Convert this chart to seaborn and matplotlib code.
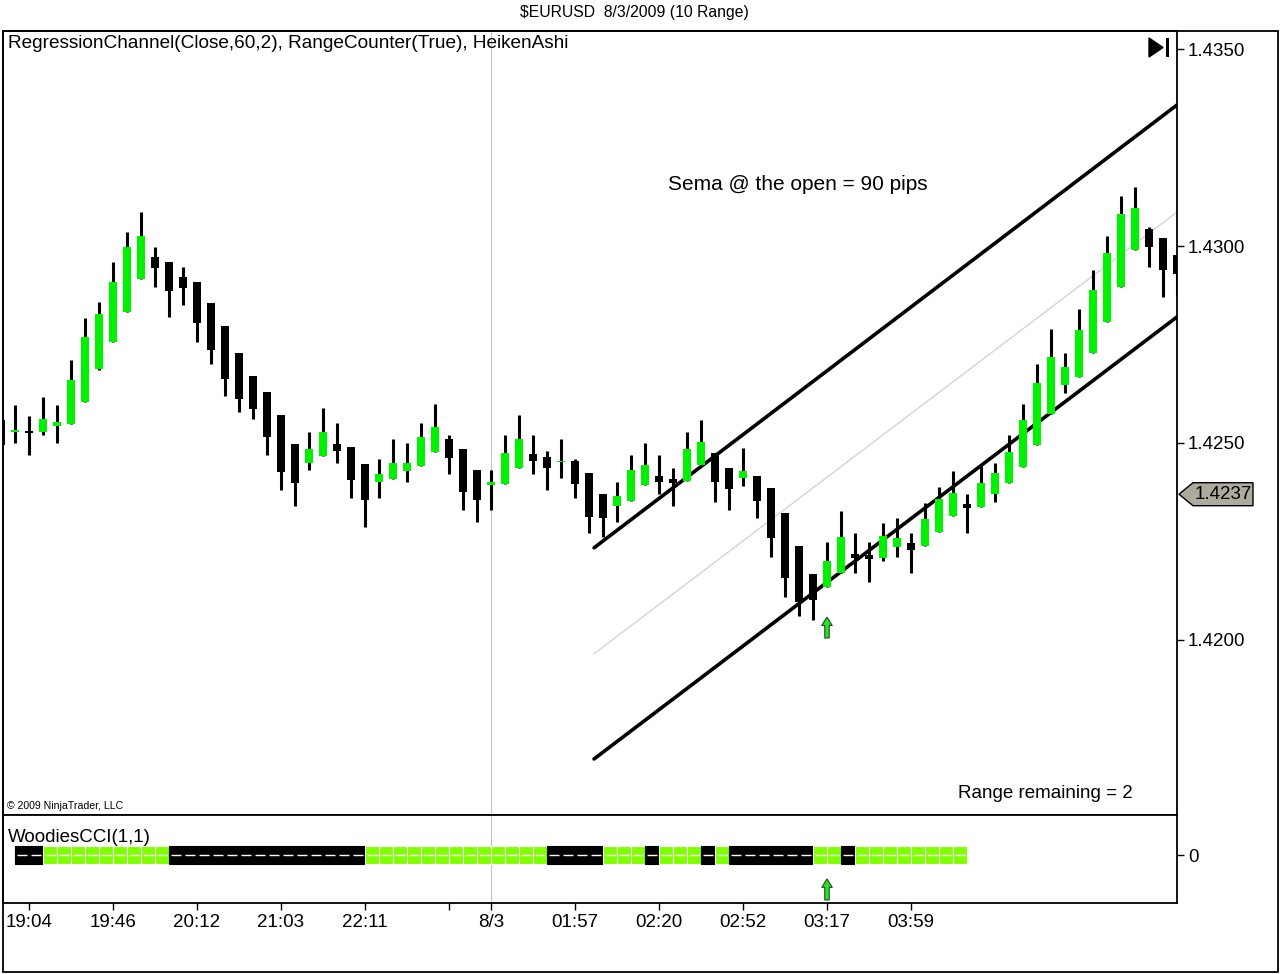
import numpy as np
import pandas as pd
import matplotlib
matplotlib.use("Agg")
import matplotlib.pyplot as plt
import matplotlib.patches as mpatches
import matplotlib.transforms as mtransforms
import seaborn as sns

# --- Heiken Ashi bars, $EURUSD 10 range (bar -1 is cut by the left edge) ---
bar_idx = list(range(-1, 84))
ha_open = [1.42558, 1.42529, 1.42530, 1.42528, 1.42543, 1.42548, 1.42604, 1.42688, 1.42756, 1.42832,
           1.42916, 1.42972, 1.42959, 1.42921, 1.42909, 1.42855, 1.42797, 1.42728, 1.42670, 1.42629,
           1.42571, 1.42497, 1.42449, 1.42467, 1.42497, 1.42490, 1.42447, 1.42401, 1.42409, 1.42429,
           1.42442, 1.42477, 1.42510, 1.42485, 1.42431, 1.42393, 1.42396, 1.42437, 1.42472, 1.42464,
           1.42452, 1.42454, 1.42424, 1.42371, 1.42340, 1.42353, 1.42393, 1.42416, 1.42409, 1.42404,
           1.42444, 1.42475, 1.42437, 1.42411, 1.42416, 1.42386, 1.42322, 1.42239, 1.42168, 1.42135,
           1.42170, 1.42218, 1.42216, 1.42208, 1.42236, 1.42246, 1.42239, 1.42274, 1.42315, 1.42345,
           1.42338, 1.42371, 1.42398, 1.42439, 1.42495, 1.42574, 1.42647, 1.42668, 1.42728, 1.42807,
           1.42896, 1.42990, 1.43043, 1.43020, 1.42977]
ha_high = [1.42576, 1.42596, 1.42569, 1.42617, 1.42596, 1.42711, 1.42817, 1.42858, 1.42959, 1.43036,
           1.43086, 1.42997, 1.42959, 1.42947, 1.42909, 1.42855, 1.42797, 1.42728, 1.42670, 1.42629,
           1.42571, 1.42497, 1.42528, 1.42589, 1.42551, 1.42490, 1.42447, 1.42459, 1.42510, 1.42500,
           1.42551, 1.42599, 1.42520, 1.42485, 1.42431, 1.42431, 1.42520, 1.42571, 1.42520, 1.42480,
           1.42510, 1.42459, 1.42424, 1.42371, 1.42401, 1.42470, 1.42500, 1.42470, 1.42437, 1.42528,
           1.42558, 1.42475, 1.42437, 1.42487, 1.42416, 1.42386, 1.42322, 1.42239, 1.42168, 1.42249,
           1.42327, 1.42272, 1.42249, 1.42297, 1.42310, 1.42272, 1.42348, 1.42388, 1.42429, 1.42371,
           1.42442, 1.42449, 1.42520, 1.42599, 1.42701, 1.42789, 1.42728, 1.42840, 1.42939, 1.43025,
           1.43127, 1.43150, 1.43048, 1.43020, 1.42977]
ha_low = [1.42477, 1.42500, 1.42470, 1.42520, 1.42500, 1.42548, 1.42604, 1.42685, 1.42756, 1.42832,
          1.42916, 1.42896, 1.42820, 1.42850, 1.42756, 1.42701, 1.42619, 1.42579, 1.42561, 1.42470,
          1.42381, 1.42340, 1.42431, 1.42467, 1.42449, 1.42360, 1.42287, 1.42360, 1.42409, 1.42401,
          1.42442, 1.42477, 1.42421, 1.42330, 1.42299, 1.42330, 1.42396, 1.42437, 1.42421, 1.42381,
          1.42411, 1.42360, 1.42272, 1.42261, 1.42299, 1.42353, 1.42393, 1.42371, 1.42340, 1.42404,
          1.42444, 1.42350, 1.42330, 1.42391, 1.42310, 1.42211, 1.42109, 1.42061, 1.42051, 1.42135,
          1.42170, 1.42170, 1.42147, 1.42201, 1.42211, 1.42170, 1.42239, 1.42274, 1.42315, 1.42272,
          1.42338, 1.42350, 1.42398, 1.42439, 1.42495, 1.42574, 1.42627, 1.42668, 1.42728, 1.42807,
          1.42896, 1.42990, 1.42947, 1.42871, 1.42876]
ha_close = [1.42495, 1.42533, 1.42525, 1.42561, 1.42553, 1.42660, 1.42769, 1.42827, 1.42909, 1.42997,
            1.43025, 1.42944, 1.42886, 1.42893, 1.42805, 1.42736, 1.42662, 1.42612, 1.42586, 1.42515,
            1.42426, 1.42398, 1.42485, 1.42528, 1.42480, 1.42406, 1.42355, 1.42421, 1.42449, 1.42449,
            1.42515, 1.42541, 1.42462, 1.42376, 1.42355, 1.42401, 1.42475, 1.42510, 1.42454, 1.42437,
            1.42454, 1.42396, 1.42312, 1.42310, 1.42365, 1.42431, 1.42444, 1.42401, 1.42398, 1.42485,
            1.42503, 1.42401, 1.42383, 1.42429, 1.42353, 1.42259, 1.42157, 1.42096, 1.42102, 1.42201,
            1.42261, 1.42208, 1.42206, 1.42264, 1.42259, 1.42228, 1.42307, 1.42358, 1.42373, 1.42335,
            1.42398, 1.42424, 1.42477, 1.42558, 1.42652, 1.42718, 1.42693, 1.42787, 1.42888, 1.42982,
            1.43081, 1.43096, 1.42997, 1.42939, 1.42929]

# --- RegressionChannel(Close,60,2) end points ---
reg_x = [41.36, 83.0]
reg_upper = [1.42234, 1.43358]
reg_mid = [1.41965, 1.43086]
reg_lower = [1.41698, 1.42820]

# --- WoodiesCCI(1,1) histogram cells: 1 = above zero (green), 0 = below (black) ---
cci_up = [0, 0, 1, 1, 1, 1, 1, 1, 1, 1, 1, 0, 0, 0, 0, 0, 0, 0, 0, 0, 0, 0, 0, 0, 0,
          1, 1, 1, 1, 1, 1, 1, 1, 1, 1, 1, 1, 1, 0, 0, 0, 0, 1, 1, 1, 0, 1, 1, 1, 0,
          1, 0, 0, 0, 0, 0, 0, 1, 1, 0, 1, 1, 1, 1, 1, 1, 1, 1]

tick_pos = [1, 7, 13, 19, 25, 31, 34, 40, 46, 52, 58, 64]
tick_lab = ["19:04", "19:46", "20:12", "21:03", "22:11", "", "8/3", "01:57", "02:20", "02:52", "03:17", "03:59"]
price_ticks = [1.4200, 1.4250, 1.4300, 1.4350]
last_price = 1.4237
signal_bar = 58

sns.set_theme(style="white")
plt.rcParams["font.family"] = ["Liberation Sans", "DejaVu Sans"]
plt.rcParams["text.color"] = "black"

W, H = 1280, 974
fig = plt.figure(figsize=(W / 100, H / 100), dpi=100)


def box(x0, y0, x1, y1):
    return [x0 / W, 1 - y1 / H, (x1 - x0) / W, (y1 - y0) / H]


ax = fig.add_axes(box(3, 31, 1177, 815))
ax2 = fig.add_axes(box(3, 815, 1177, 903), sharex=ax)

# --- candles ---
df = pd.DataFrame({"bar": bar_idx, "open": ha_open, "high": ha_high, "low": ha_low, "close": ha_close})
df["up"] = df["close"] >= df["open"]
body_h = (df["close"] - df["open"]).abs().clip(lower=0.00004)
body_mid = (df["close"] + df["open"]) / 2
ax.vlines(df["bar"], df["low"], df["high"], color="black", lw=2.2, zorder=4)
ax.bar(df["bar"], body_h, bottom=body_mid - body_h / 2, width=0.64,
       color=np.where(df["up"], "#00f200", "black"), linewidth=0, zorder=5)

# --- regression channel ---
sns.lineplot(x=reg_x, y=reg_mid, ax=ax, color="#d4d4d4", lw=1, zorder=2)
sns.lineplot(x=reg_x, y=reg_upper, ax=ax, color="black", lw=2.6, zorder=3)
sns.lineplot(x=reg_x, y=reg_lower, ax=ax, color="black", lw=2.6, zorder=3)

ax.set_xlim(-0.857, 83.0)
ax.set_ylim(1.415558, 1.435457)
ax.axvline(34, color="#c4c4c4", lw=0.8, zorder=1)
ax2.axvline(34, color="#c4c4c4", lw=0.8, zorder=1)

ax.yaxis.tick_right()
ax.set_yticks(price_ticks)
ax.set_yticklabels([f"{p:.4f}" for p in price_ticks])
ax.tick_params(axis="y", right=True, left=False, direction="out", length=5, width=1,
               labelsize=13.5, pad=3, colors="black")
ax.tick_params(axis="x", bottom=False, labelbottom=False)

# --- CCI strip ---
cells = np.arange(len(cci_up))
ax2.bar(cells, 0.45, bottom=-0.225, width=1.0, align="edge",
        color=["#80ff00" if u else "black" for u in cci_up],
        edgecolor=["white" if u else "black" for u in cci_up], linewidth=0.8, zorder=3)
ax2.hlines(np.zeros(len(cells)), cells + 0.12, cells + 0.88, color="white", lw=1, zorder=4)
ax2.set_ylim(-1.2, 1.0)
ax2.yaxis.tick_right()
ax2.set_yticks([0])
ax2.set_yticklabels(["0"])
ax2.tick_params(axis="y", right=True, left=False, direction="out", length=5, width=1,
                labelsize=13.5, pad=3, colors="black")
ax2.set_xticks(tick_pos)
ax2.set_xticklabels(tick_lab)
ax2.tick_params(axis="x", bottom=True, direction="out", length=5, width=1,
                labelsize=13.5, pad=3, colors="black")

for a in (ax, ax2):
    for s in a.spines.values():
        s.set_color("black")
        s.set_linewidth(1.3)

# signal arrows
arrow = dict(arrowstyle="simple,head_length=0.6,head_width=0.75,tail_width=0.32",
             fc="#2ee02e", ec="#174d17", lw=0.8, shrinkA=0, shrinkB=0, mutation_scale=10)
ax.annotate("", xy=(signal_bar, 1.42058), xytext=(signal_bar, 1.42005), arrowprops=arrow, zorder=6)
ax2.annotate("", xy=(signal_bar, -0.6), xytext=(signal_bar, -1.125), arrowprops=arrow, zorder=6)

# --- texts ---
fig.text(634 / W, 1 - 13 / H, "$EURUSD  8/3/2009 (10 Range)", ha="center", va="center", fontsize=11.3)
fig.text(8 / W, 1 - 43 / H, "RegressionChannel(Close,60,2), RangeCounter(True), HeikenAshi",
         ha="left", va="center", fontsize=13.7)
fig.text(798 / W, 1 - 185 / H, "Sema @ the open = 90 pips", ha="center", va="center", fontsize=15)
fig.text(1045 / W, 1 - 793 / H, "Range remaining = 2", ha="center", va="center", fontsize=13.5)
fig.text(7 / W, 1 - 806 / H, "\u00a9 2009 NinjaTrader, LLC", ha="left", va="center", fontsize=7.6)
fig.text(8 / W, 1 - 837 / H, "WoodiesCCI(1,1)", ha="left", va="center", fontsize=13.5)

# last price tag
tr = mtransforms.blended_transform_factory(fig.transFigure, ax.transData)
hh = 0.000292
tag = mpatches.Polygon([(1179 / W, last_price), (1193 / W, last_price + hh), (1253 / W, last_price + hh),
                        (1253 / W, last_price - hh), (1193 / W, last_price - hh)],
                       closed=True, transform=tr, fc="#adab9c", ec="black", lw=1, clip_on=False)
fig.add_artist(tag)
fig.text(1223 / W, last_price, f"{last_price:.4f}", transform=tr, ha="center", va="center", fontsize=13.5)

# "go to end" button
fig.add_artist(mpatches.Polygon([(1149 / W, 1 - 38 / H), (1149 / W, 1 - 57 / H), (1163 / W, 1 - 47.5 / H)],
                                closed=True, transform=fig.transFigure, fc="black", ec="black"))
fig.add_artist(mpatches.Rectangle((1166 / W, 1 - 57 / H), 3 / W, 19 / H, transform=fig.transFigure,
                                  fc="black", ec="none"))

# outer frame
fig.add_artist(mpatches.Rectangle((3 / W, 1 - 972 / H), 1275 / W, 941 / H, transform=fig.transFigure,
                                  fill=False, ec="black", lw=1.3))

fig.savefig("out.png", dpi=100, facecolor="white")
